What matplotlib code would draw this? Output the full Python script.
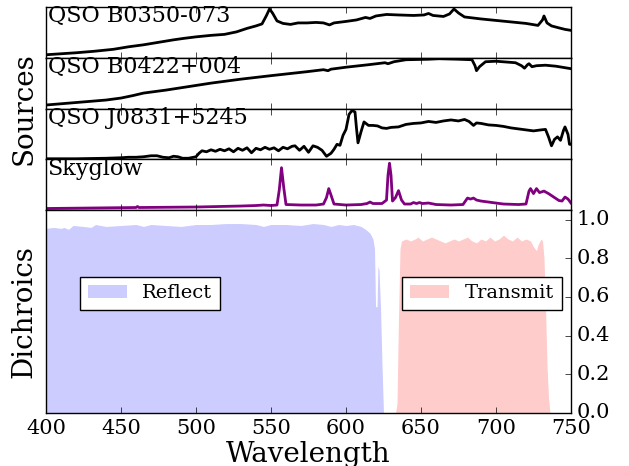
import matplotlib
matplotlib.use("Agg")
import matplotlib.pyplot as plt
import numpy as np

# ---------------- data ----------------
b0350_wl = [400, 410, 420, 432, 445, 455, 465, 475, 485, 492, 500, 510, 519, 527, 534, 540, 544, 547, 549, 551,
            554, 558, 563, 568, 574, 580, 585, 589, 592, 600, 607, 613, 616, 620, 627, 635, 645, 652, 655, 658,
            665, 669, 672, 675, 679, 690, 700, 710, 720, 728, 731, 732, 734, 737, 742, 746, 750]
b0350_flux = [0.06, 0.08, 0.10, 0.13, 0.17, 0.22, 0.26, 0.31, 0.36, 0.39, 0.42, 0.45, 0.47, 0.52, 0.59, 0.64, 0.68, 0.85, 0.98, 0.90,
              0.74, 0.69, 0.67, 0.70, 0.70, 0.71, 0.70, 0.66, 0.70, 0.73, 0.76, 0.81, 0.79, 0.84, 0.87, 0.86, 0.85, 0.86, 0.89, 0.85,
              0.83, 0.88, 0.98, 0.90, 0.82, 0.78, 0.75, 0.72, 0.69, 0.65, 0.76, 0.84, 0.70, 0.64, 0.60, 0.57, 0.55]

b0422_wl = [400, 420, 440, 450, 458, 465, 480, 495, 510, 530, 550, 565, 574, 585, 588, 590, 600, 615, 626, 628,
            632, 640, 655, 662, 675, 684, 686, 687, 689, 693, 700, 713, 717, 719, 721, 722, 724, 727, 733, 740, 750]
b0422_flux = [0.07, 0.12, 0.17, 0.21, 0.26, 0.31, 0.37, 0.44, 0.51, 0.59, 0.66, 0.71, 0.74, 0.78, 0.76, 0.79, 0.83, 0.88, 0.92, 0.90,
              0.94, 0.98, 0.99, 1.00, 0.99, 0.98, 0.86, 0.76, 0.84, 0.94, 0.95, 0.92, 0.86, 0.81, 0.88, 0.90, 0.84, 0.86, 0.87, 0.85, 0.80]

j0831_wl = [400, 420, 440, 450, 455, 460, 465, 470, 474, 478, 482, 485, 488, 491, 495, 500, 502, 504, 507, 510,
            513, 516, 519, 522, 525, 528, 531, 534, 537, 540, 543, 546, 549, 552, 555, 558, 561, 564, 566, 569,
            572, 575, 578, 581, 584, 587, 590, 592, 594, 596, 598, 600, 602, 604, 606, 607, 608, 610, 612, 615,
            618, 621, 624, 627, 630, 635, 640, 645, 650, 655, 660, 665, 670, 675, 679, 682, 685, 687, 690, 695,
            700, 705, 710, 715, 720, 725, 730, 733, 735, 737, 739, 741, 743, 745, 746, 748, 749, 750]
j0831_flux = [0.01, 0.01, 0.02, 0.03, 0.04, 0.04, 0.05, 0.07, 0.07, 0.04, 0.03, 0.06, 0.05, 0.02, 0.02, 0.05, 0.12, 0.17, 0.15, 0.19,
              0.16, 0.20, 0.17, 0.21, 0.15, 0.22, 0.18, 0.23, 0.13, 0.22, 0.19, 0.24, 0.20, 0.23, 0.17, 0.24, 0.21, 0.26, 0.27, 0.18,
              0.26, 0.14, 0.27, 0.24, 0.18, 0.06, 0.12, 0.20, 0.30, 0.28, 0.48, 0.60, 0.90, 0.98, 0.95, 0.62, 0.33, 0.55, 0.75, 0.68,
              0.68, 0.67, 0.63, 0.62, 0.64, 0.65, 0.70, 0.72, 0.73, 0.76, 0.74, 0.77, 0.79, 0.77, 0.80, 0.76, 0.68, 0.73, 0.72, 0.69,
              0.68, 0.66, 0.63, 0.61, 0.59, 0.57, 0.59, 0.60, 0.45, 0.27, 0.40, 0.45, 0.38, 0.58, 0.65, 0.50, 0.30, 0.30]

sky_wl = [400, 430, 460, 461, 462, 500, 530, 540, 545, 550, 554, 555.5, 557, 558.5, 560, 570, 580, 585, 587, 588.5,
          590, 592, 600, 610, 614, 616, 618, 624, 627, 628, 629, 630, 631, 633, 635, 637, 639, 643, 645, 647,
          649, 651, 655, 660, 670, 678, 681, 683, 685, 687, 690, 695, 705, 715, 720, 722, 723, 725, 727, 729,
          732, 735, 738, 742, 744, 746, 748, 750]
sky_flux = [0.03, 0.04, 0.05, 0.07, 0.05, 0.06, 0.08, 0.09, 0.10, 0.09, 0.10, 0.40, 0.85, 0.45, 0.11, 0.10, 0.10, 0.12, 0.25, 0.43,
            0.30, 0.12, 0.10, 0.11, 0.13, 0.16, 0.13, 0.13, 0.20, 0.70, 0.94, 0.70, 0.18, 0.25, 0.39, 0.20, 0.12, 0.12, 0.15, 0.13,
            0.15, 0.13, 0.14, 0.11, 0.10, 0.11, 0.24, 0.22, 0.24, 0.20, 0.18, 0.16, 0.12, 0.11, 0.12, 0.38, 0.43, 0.33, 0.43, 0.35,
            0.38, 0.33, 0.27, 0.19, 0.18, 0.26, 0.22, 0.14]

reflect_wl = [400, 405, 410, 412, 415, 418, 425, 430, 433, 440, 450, 460, 465, 470, 480, 490, 500, 510, 520, 530,
              540, 545, 550, 560, 570, 578, 585, 590, 595, 600, 605, 610, 613, 616, 618, 619, 619.7, 620.7, 621.3, 622,
              623, 624, 625, 626, 750]
reflect_val = [0.955, 0.96, 0.955, 0.96, 0.95, 0.97, 0.965, 0.96, 0.975, 0.965, 0.97, 0.975, 0.965, 0.975, 0.97, 0.965, 0.975, 0.975, 0.98, 0.98,
               0.975, 0.965, 0.975, 0.975, 0.97, 0.98, 0.975, 0.965, 0.975, 0.97, 0.975, 0.965, 0.95, 0.93, 0.90, 0.85, 0.55, 0.55, 0.76, 0.74,
               0.55, 0.25, 0.0, 0.0, 0.0]

transmit_wl = [400, 633, 634, 635, 636, 637, 640, 643, 646, 648, 651, 654, 657, 660, 663, 666, 669, 672, 675, 678,
               681, 684, 687, 690, 693, 696, 699, 702, 705, 708, 711, 714, 717, 720, 723, 725, 727, 728, 730, 731,
               732, 733, 734, 735, 736, 750]
transmit_val = [0.0, 0.0, 0.05, 0.5, 0.85, 0.89, 0.90, 0.89, 0.90, 0.91, 0.89, 0.90, 0.91, 0.90, 0.89, 0.88, 0.89, 0.90, 0.89, 0.90,
                0.91, 0.89, 0.88, 0.90, 0.89, 0.91, 0.89, 0.90, 0.92, 0.90, 0.89, 0.91, 0.89, 0.90, 0.89, 0.86, 0.84, 0.87, 0.90, 0.89,
                0.80, 0.55, 0.25, 0.08, 0.0, 0.0]

source_names = ["QSO B0350-073", "QSO B0422+004", "QSO J0831+5245", "Skyglow"]
x_ticks = [400, 450, 500, 550, 600, 650, 700, 750]
y_ticks = [0.0, 0.2, 0.4, 0.6, 0.8, 1.0]

# ---------------- style ----------------
plt.style.use("classic")
plt.rcParams["font.family"] = ["DejaVu Serif"]
plt.rcParams["xtick.direction"] = "in"
plt.rcParams["ytick.direction"] = "in"

W_PX, H_PX = 629, 466
fig = plt.figure(figsize=(W_PX / 100, H_PX / 100), dpi=100)
fig.patch.set_facecolor("white")

def fy(py):
    return 1 - py / H_PX

L = 46 / W_PX
W = 525 / W_PX
ph = 50.75
tops = [7, 7 + ph, 7 + 2 * ph, 7 + 3 * ph]

series = [(b0350_wl, b0350_flux, "black"),
          (b0422_wl, b0422_flux, "black"),
          (j0831_wl, j0831_flux, "black"),
          (sky_wl, sky_flux, "#800080")]

for top, (wl, fl, col), name in zip(tops, series, source_names):
    ax = fig.add_axes([L, fy(top + ph), W, ph / H_PX])
    ax.plot(wl, fl, color=col, lw=2)
    ax.set_xlim(400, 750)
    ax.set_ylim(0, 1.02)
    ax.set_xticks(x_ticks)
    ax.set_xticklabels([])
    ax.set_yticks([])
    ax.text(0.003, 1.03, name, transform=ax.transAxes, ha="left", va="top", fontsize=16)

axb = fig.add_axes([L, fy(413), W, 203 / H_PX])
h1 = axb.fill_between(reflect_wl, 0, reflect_val, color="b", alpha=0.2, lw=0, label="Reflect")
h2 = axb.fill_between(transmit_wl, 0, transmit_val, color="r", alpha=0.2, lw=0, label="Transmit")
axb.set_xlim(400, 750)
axb.set_ylim(0, 1.05)
axb.set_xticks(x_ticks)
axb.set_yticks(y_ticks)
axb.yaxis.tick_right()
axb.tick_params(labelsize=15)
axb.set_xticklabels([str(t) for t in x_ticks])
axb.set_yticklabels(["%.1f" % t for t in y_ticks])

leg1 = axb.legend([h1], ["Reflect"], loc="center left", bbox_to_anchor=(0.065, 0.589),
                  borderaxespad=0, fontsize=14, fancybox=False, shadow=False)
axb.add_artist(leg1)
leg2 = axb.legend([h2], ["Transmit"], loc="center right", bbox_to_anchor=(0.982, 0.589),
                  borderaxespad=0, fontsize=14, fancybox=False, shadow=False)

fig.text(24 / W_PX, fy((7 + 210) / 2), "Sources", rotation=90, ha="center", va="center", fontsize=20)
fig.text(24 / W_PX, fy(311.5), "Dichroics", rotation=90, ha="center", va="center", fontsize=20)
fig.text((46 + 571) / 2 / W_PX, fy(462), "Wavelength", ha="center", va="baseline", fontsize=20)

fig.savefig("out.png", dpi=100, facecolor="white")
